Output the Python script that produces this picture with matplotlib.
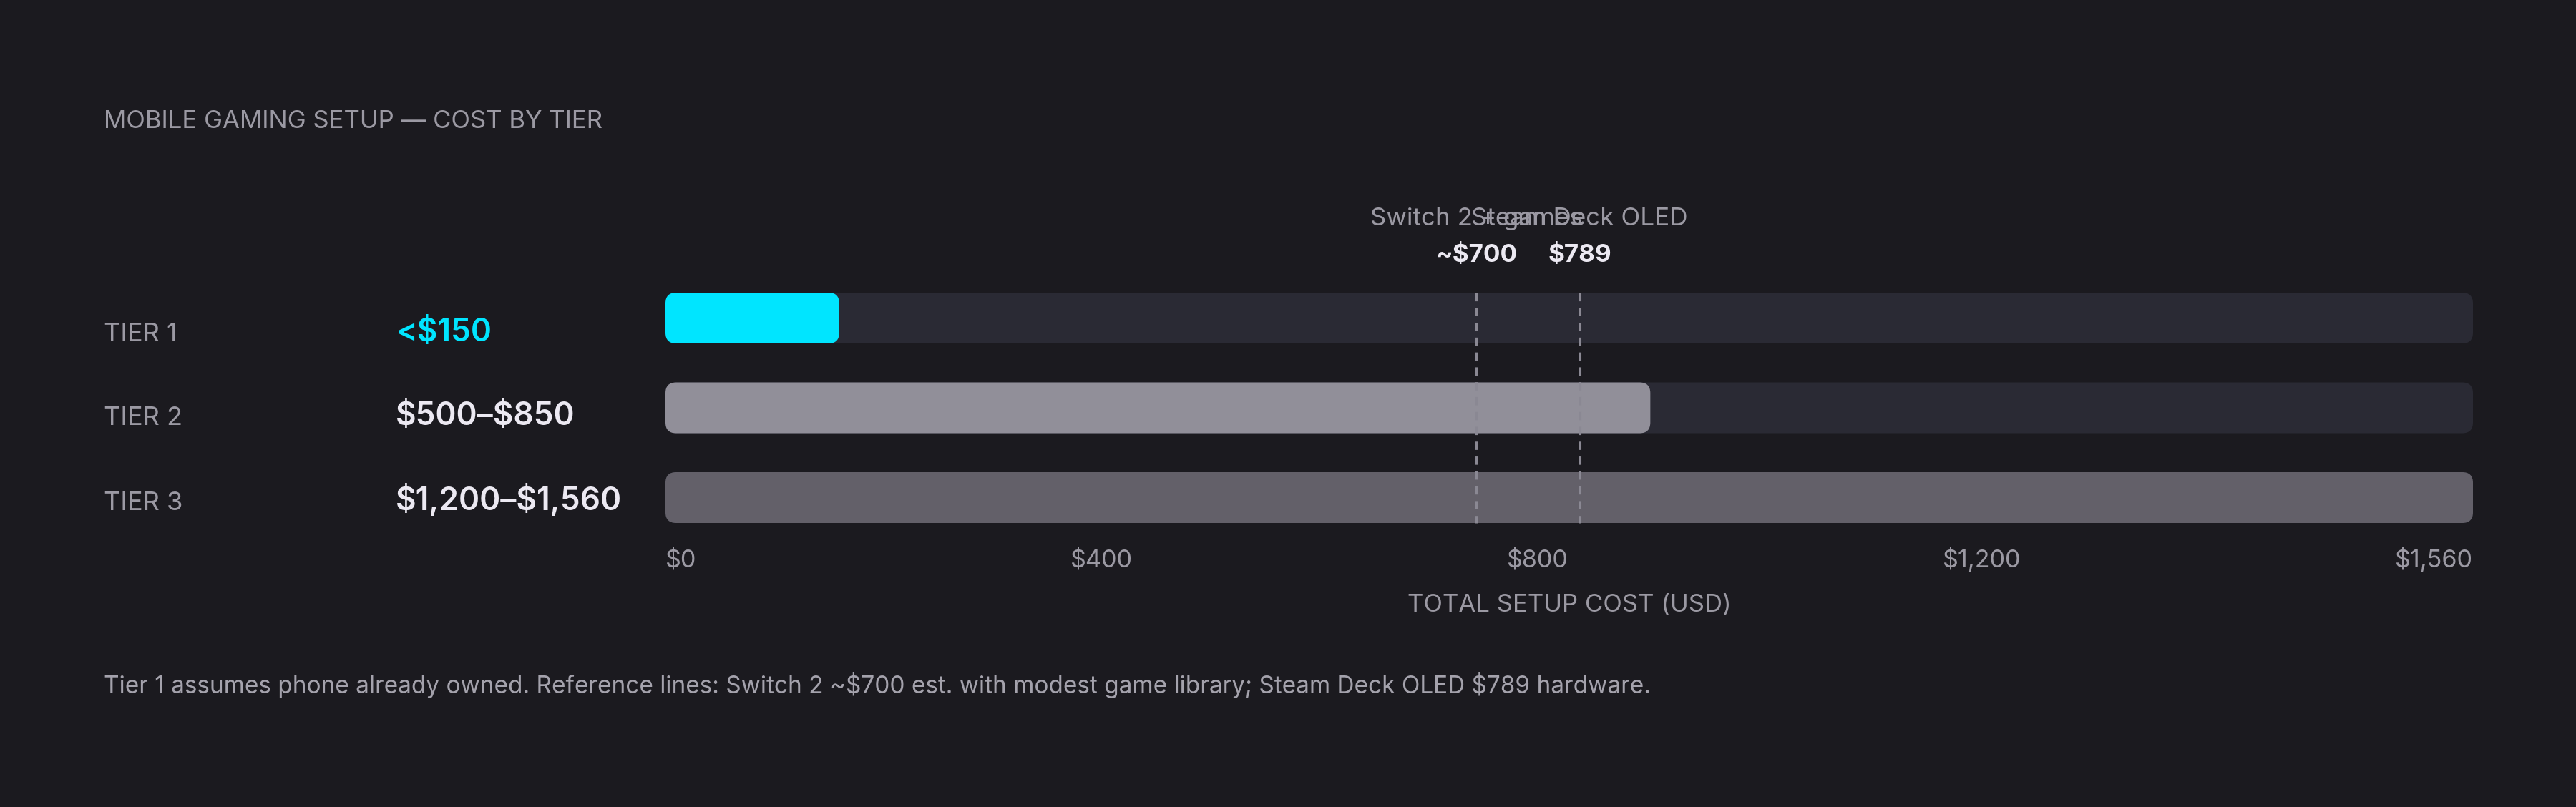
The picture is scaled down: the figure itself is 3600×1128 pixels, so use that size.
import matplotlib
matplotlib.use("Agg")
import matplotlib.pyplot as plt
from matplotlib.patches import FancyBboxPatch

# canvas (pixels) and dpi
W, H = 3600, 1128
DPI = 200

# data
tiers = ["TIER 1", "TIER 2", "TIER 3"]
tier_labels = ["<$150", "$500–$850", "$1,200–$1,560"]
tier_values = [150, 850, 1560]
x_max = 1560
tick_values = [0, 400, 800, 1200, 1560]
ref_names = ["Switch 2 + games", "Steam Deck OLED"]
ref_values = [700, 789]
ref_labels = ["~$700", "$789"]

title = "MOBILE GAMING SETUP — COST BY TIER"
x_title = "TOTAL SETUP COST (USD)"
note = ("Tier 1 assumes phone already owned. Reference lines: Switch 2 ~$700 est. "
        "with modest game library; Steam Deck OLED $789 hardware.")

# colours
BG = "#1b1a1f"
TRACK = "#2a2a34"
bar_colors = ["#00e5ff", "#918f99", "#636069"]
value_colors = ["#00e5ff", "#ece9f2", "#ece9f2"]
MUTED = "#9b99a3"
REF = "#8a8893"

plt.rcParams['font.family'] = ['Inter', 'DejaVu Sans']
plt.rcParams['text.parse_math'] = False

fig = plt.figure(figsize=(W / DPI, H / DPI), dpi=DPI, facecolor=BG)

# plot area: x from 930 px to 3456 px, rows mapped so bar i sits at 444.5 + 125.5*i
left_px, right_px = 930, 3456
row0, row_step = 444.5, 125.5
ax = fig.add_axes([left_px / W, 0, (right_px - left_px) / W, 1])
ax.set_xlim(0, x_max)
ax.set_ylim((H - row0) / row_step, -row0 / row_step)
ax.axis("off")


def row(px):
    # pixel row -> y data
    return (px - row0) / row_step


def fx(px):
    return px / W


def fy(px):
    return 1 - px / H


bar_h = 71 / row_step
radius_px = 15
r_x = radius_px * x_max / (right_px - left_px)
m_aspect = (radius_px / row_step) / r_x

for i, v in enumerate(tier_values):
    track = FancyBboxPatch((0, i - bar_h / 2), x_max, bar_h,
                           boxstyle=f"round,pad=0,rounding_size={r_x}",
                           mutation_aspect=m_aspect, fc=TRACK, ec="none", zorder=1)
    ax.add_patch(track)
    bar = FancyBboxPatch((0, i - bar_h / 2), v, bar_h,
                         boxstyle=f"round,pad=0,rounding_size={r_x}",
                         mutation_aspect=m_aspect, fc=bar_colors[i], ec="none", zorder=2)
    ax.add_patch(bar)

# reference lines
ax.vlines(ref_values, -bar_h / 2, len(tiers) - 1 + bar_h / 2, colors=REF,
          linewidth=1.1, linestyles=(0, (3.8, 3.0)), zorder=3)
for v, name, lab in zip(ref_values, ref_names, ref_labels):
    ax.text(v, row(315), name, ha="center", va="baseline", fontsize=12.6,
            color=MUTED)
    ax.text(v, row(366), lab, ha="center", va="baseline", fontsize=12.6,
            color="#ece9f2", fontweight="bold")

# tier names and values
tier_base = [477, 594, 713]
for i, (t, lab) in enumerate(zip(tiers, tier_labels)):
    fig.text(fx(145), fy(tier_base[i]), t, ha="left", va="baseline", fontsize=13,
             color=MUTED)
    fig.text(fx(553), fy(tier_base[i]), lab, ha="left", va="baseline", fontsize=15.9,
             color=value_colors[i], fontweight="semibold")

# tick labels laid out edge to edge (space-between)
tick_texts = [fig.text(0, fy(793), f"${v:,}", ha="left", va="baseline",
                       fontsize=12.3, color=MUTED) for v in tick_values]
renderer = fig.canvas.get_renderer()
widths = [t.get_window_extent(renderer).width for t in tick_texts]
gap = ((right_px - left_px) - sum(widths)) / (len(widths) - 1)
x = left_px
for t, w in zip(tick_texts, widths):
    t.set_x(fx(x))
    x += w + gap

ax.text(x_max / 2, row(855), x_title, ha="center", va="baseline", fontsize=12.5,
        color=MUTED)

fig.text(fx(145), fy(179), title, ha="left", va="baseline", fontsize=12.5,
         color=MUTED)
fig.text(fx(145), fy(969), note, ha="left", va="baseline", fontsize=12.0,
         color="#a4a2ac")

fig.savefig("out.png", dpi=DPI, facecolor=BG)
